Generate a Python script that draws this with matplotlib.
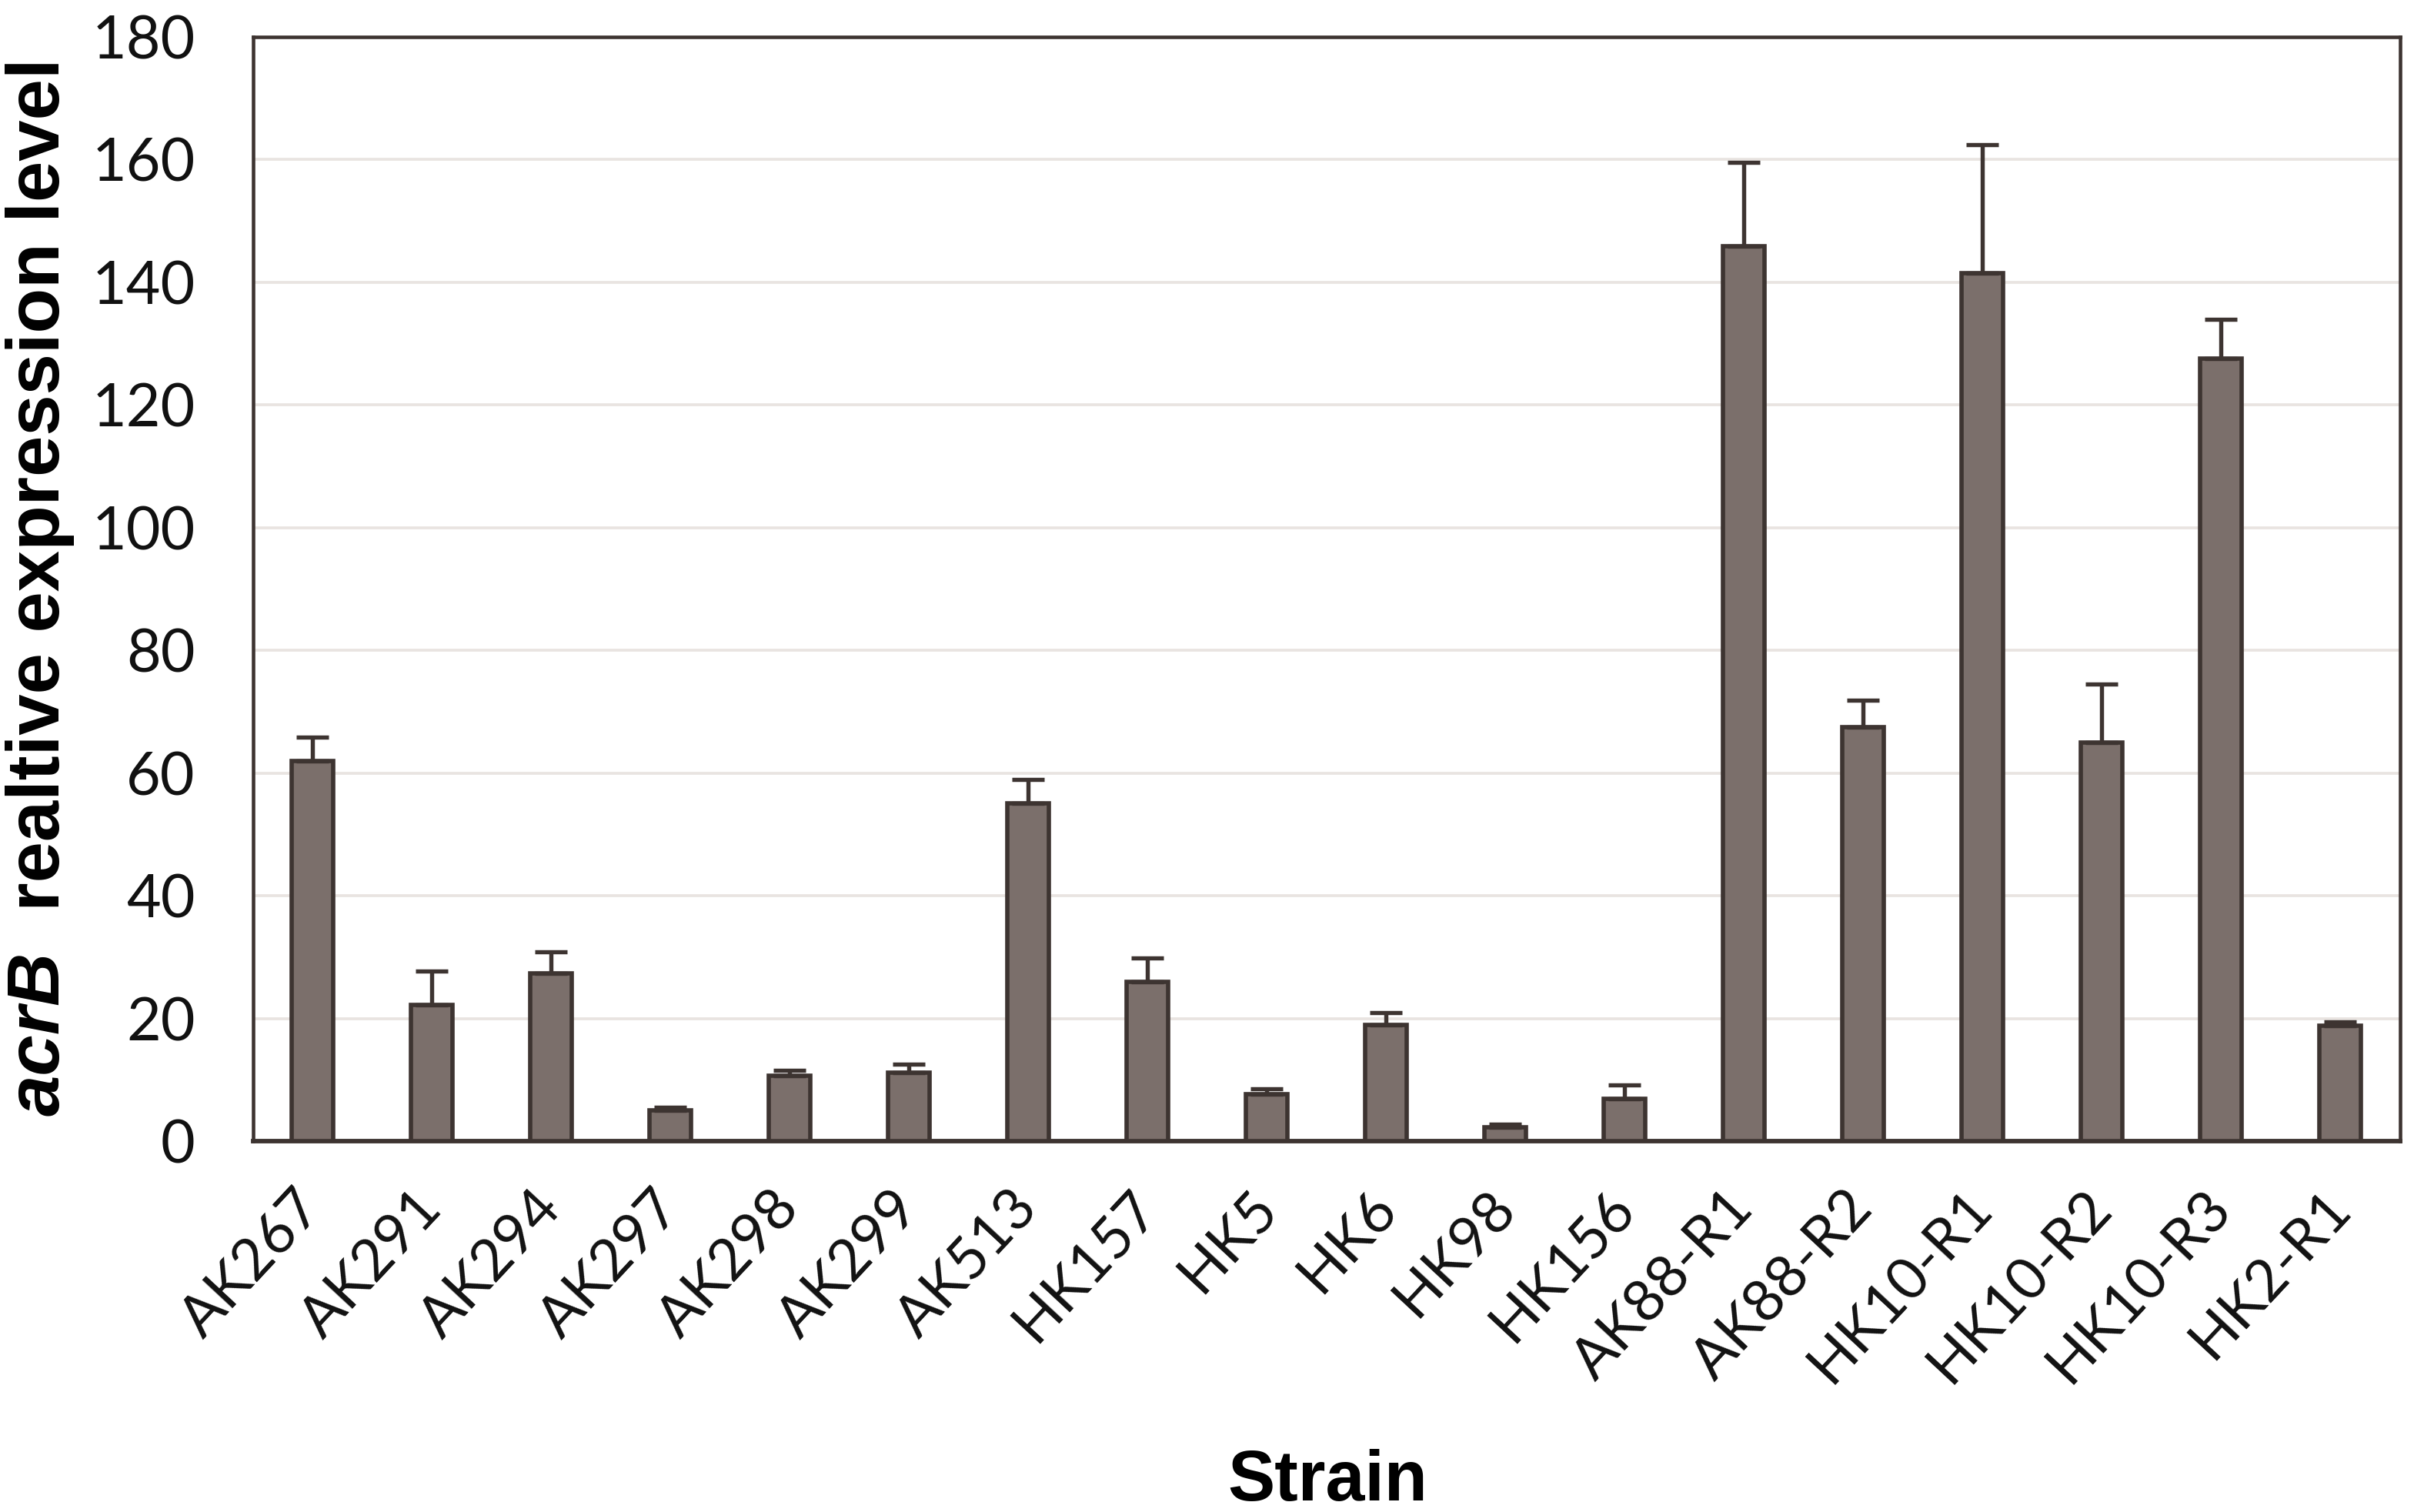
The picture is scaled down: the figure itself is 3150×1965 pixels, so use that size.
import matplotlib
matplotlib.use("Agg")
import matplotlib.pyplot as plt
import numpy as np

strains = ["AK267", "AK291", "AK294", "AK297", "AK298", "AK299", "AK513", "HK157",
           "HK5", "HK6", "HK98", "HK156", "AK88-R1", "AK88-R2", "HK10-R1", "HK10-R2",
           "HK10-R3", "HK2-R1"]
expression = [62.0, 22.2, 27.3, 5.0, 10.7, 11.1, 55.1, 26.0,
              7.6, 19.0, 2.2, 6.9, 145.9, 67.5, 141.5, 65.0,
              127.5, 18.8]
errors = [3.8, 5.5, 3.5, 0.5, 0.8, 1.4, 3.8, 3.8,
          0.9, 1.9, 0.5, 2.2, 13.6, 4.4, 20.9, 9.5,
          6.5, 0.7]
yticks = [0, 20, 40, 60, 80, 100, 120, 140, 160, 180]

tick_font = ["Lato", "DejaVu Sans"]
label_font = ["Liberation Sans", "DejaVu Sans"]
fill = "#7b6f6b"
edge = "#3d3431"

fig = plt.figure(figsize=(21, 13.1), dpi=150)
ax = fig.add_axes([0.1044, 0.2453, 0.8857, 0.7303])

x = np.arange(len(strains))
ax.bar(x, expression, width=0.35, color=fill, edgecolor=edge, linewidth=2.7, zorder=3)
ax.errorbar(x, expression, yerr=[np.zeros(len(errors)), errors], fmt="none",
            ecolor=edge, elinewidth=2.6, capsize=10, capthick=2.6, zorder=4)

ax.set_xlim(-0.5, len(strains) - 0.5)
ax.set_ylim(0, 180)
ax.set_yticks(yticks)
ax.set_yticklabels([str(v) for v in yticks], fontfamily=tick_font, fontsize=37, color="#111111")
ax.set_xticks(x)
ax.set_xticklabels(strains, rotation=47, ha="right", va="center", rotation_mode="anchor",
                   fontfamily=tick_font, fontsize=36, color="#111111")
ax.tick_params(axis="y", length=0, pad=36)
ax.tick_params(axis="x", length=0, pad=36)

ax.yaxis.grid(True, color="#e9e4e1", linewidth=1.8, zorder=0)
ax.set_axisbelow(True)
for s in ["left", "right", "top", "bottom"]:
    ax.spines[s].set_color(edge)
    ax.spines[s].set_linewidth(2.2)
ax.spines["bottom"].set_linewidth(2.8)

# y-axis label: italic gene name followed by regular bold text
t1 = fig.text(0.0165, 0.262, "acrB", rotation=90, ha="center", va="bottom",
              fontfamily=label_font, fontsize=46, fontweight="bold", fontstyle="italic")
ax.annotate("  realtive expression level", xy=(0.5, 1.0), xycoords=t1,
            rotation=90, ha="center", va="bottom",
            fontfamily=label_font, fontsize=46, fontweight="bold",
            annotation_clip=False)

fig.text(0.5476, 0.0076, "Strain", ha="center", va="baseline",
         fontfamily=label_font, fontsize=44, fontweight="bold")

fig.savefig("out.png", dpi=150, facecolor="white")
